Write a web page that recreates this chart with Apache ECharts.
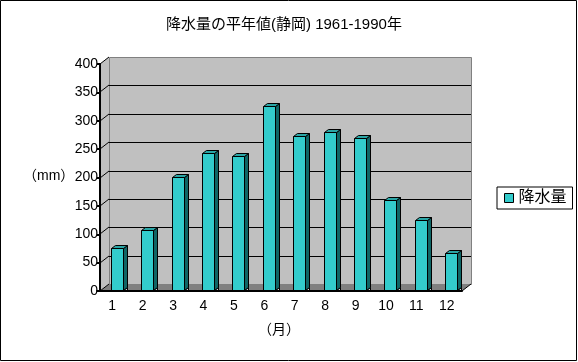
<!DOCTYPE html>
<html><head><meta charset="utf-8">
<script src="https://cdn.jsdelivr.net/npm/echarts@6/dist/echarts.min.js"></script>
<style>html,body{margin:0;padding:0;background:#fff}#c{width:578px;height:362px}</style>
</head><body><div id="c"></div>
<script>
const titleText = '降水量の平年値(静岡) 1961-1990年';
const seriesName = '降水量';
const months = ['1','2','3','4','5','6','7','8','9','10','11','12'];
const rainfall = [73, 104, 198, 240, 236, 323, 270, 277, 267, 157, 122, 64];
const yMin = 0, yMax = 400, yStep = 50;
const yName = '（mm）';
const xName = '（月）';

const FONT = '"Liberation Sans", "Noto Sans CJK JP", sans-serif';
const DX = 9, DY = -7;          // depth offset of back wall
const BDX = 4, BDY = -3;        // bar depth

const chart = echarts.init(document.getElementById('c'), null, {renderer: 'canvas'});

function renderWalls(params, api) {
  const cs = params.coordSys;
  const fx = cs.x + 3;                       // front-left (y axis position)
  const fr = cs.x + cs.width;                // front-right
  const y0 = api.coord([0, yMin])[1];
  const yT = api.coord([0, yMax])[1];
  const ch = [];
  ch.push({type: 'polygon', shape: {points: [[fx, yT], [fx + DX, yT + DY], [fx + DX, y0 + DY], [fx, y0]]},
    style: {fill: '#c0c0c0', stroke: null}});
  ch.push({type: 'rect', shape: {x: fx + DX + 0.5, y: yT + DY + 0.5, width: fr - fx, height: y0 - yT},
    style: {fill: '#c0c0c0', stroke: '#808080', lineWidth: 1}});
  ch.push({type: 'polygon', shape: {points: [[fx, y0], [fr, y0], [fr + DX, y0 + DY], [fx + DX, y0 + DY]]},
    style: {fill: '#808080', stroke: null}});
  ch.push({type: 'line', shape: {x1: fr, y1: y0, x2: fr + DX, y2: y0 + DY}, style: {stroke: '#000', lineWidth: 1}});
  for (let v = yMin; v <= yMax; v += yStep) {
    const y = Math.round(api.coord([0, v])[1]);
    if (v > yMin && v < yMax) {
      ch.push({type: 'line', shape: {x1: fx + DX, y1: y + DY + 0.5, x2: fr + DX, y2: y + DY + 0.5},
        style: {stroke: '#000', lineWidth: 1}});
    }
    ch.push({type: 'line', shape: {x1: fx, y1: y, x2: fx + DX, y2: y + DY}, style: {stroke: '#000', lineWidth: 1}});
  }
  return {type: 'group', children: ch};
}

function renderBar(params, api) {
  const idx = api.value(0), v = api.value(1);
  const top = api.coord([idx, v]);
  const base = api.coord([idx, yMin]);
  const w = 12;
  const l = Math.round(top[0] - 1.5) + 0.5;
  const r = l + w;
  const t = Math.round(top[1] - 1.5) + 0.5;
  const b = Math.round(base[1] - 1.5) + 0.5;
  const st = {stroke: '#000', lineWidth: 1};
  return {type: 'group', children: [
    {type: 'polygon', shape: {points: [[r, b], [r + BDX, b + BDY], [r + BDX, b]]},
      style: Object.assign({fill: '#d8d8d8'}, st)},
    {type: 'polygon', shape: {points: [[r, t], [r + BDX, t + BDY], [r + BDX, b + BDY], [r, b]]},
      style: Object.assign({fill: '#0f6666'}, st)},
    {type: 'polygon', shape: {points: [[l, t], [l + BDX, t + BDY], [r + BDX, t + BDY], [r, t]]},
      style: Object.assign({fill: '#2aa5a5'}, st)},
    {type: 'rect', shape: {x: l, y: t, width: w, height: b - t},
      style: Object.assign({fill: '#33cccc'}, st)}
  ]};
}

chart.setOption({
  animation: false,
  backgroundColor: '#ffffff',
  textStyle: {fontFamily: FONT, color: '#000'},
  title: {text: titleText, left: 161, top: 12,
    textStyle: {fontSize: 15, fontWeight: 'normal', color: '#000', fontFamily: FONT}},
  grid: {left: 97, right: 116, top: 64, bottom: 71, containLabel: false},
  xAxis: {type: 'category', data: months, z: 10,
    axisLine: {show: true, lineStyle: {color: '#000', width: 2}},
    axisTick: {show: false},
    axisLabel: {color: '#000', fontSize: 14, margin: 8, fontFamily: FONT},
    splitLine: {show: false}},
  yAxis: {type: 'value', min: yMin, max: yMax, interval: yStep, offset: -3, z: 10,
    axisLine: {show: true, lineStyle: {color: '#000', width: 2}},
    axisTick: {show: true, length: 3, lineStyle: {color: '#000', width: 2}},
    axisLabel: {color: '#000', fontSize: 14, margin: 2, fontFamily: FONT},
    splitLine: {show: false}},
  legend: {left: 497, top: 187, orient: 'vertical',
    data: [{name: seriesName, icon: 'rect', itemStyle: {color: '#33cccc', borderColor: '#000', borderWidth: 1}}],
    itemWidth: 9, itemHeight: 9, padding: [3, 6, 3, 7],
    borderColor: '#000', borderWidth: 1, borderRadius: 0,
    textStyle: {fontSize: 16, color: '#000', fontFamily: FONT}},
  graphic: [
    {type: 'rect', shape: {x: 0.5, y: 0.5, width: 576, height: 360}, style: {fill: null, stroke: '#000', lineWidth: 1}, z: 100},
    {type: 'text', left: 23, top: 169, style: {text: yName, font: '14px ' + FONT, fill: '#000'}},
    {type: 'text', left: 258, top: 323, style: {text: xName, font: '14px ' + FONT, fill: '#000'}}
  ],
  series: [
    {type: 'custom', name: '_walls', renderItem: renderWalls, data: [[0, 0]], z: 1, clip: false, silent: true},
    {type: 'custom', name: seriesName, renderItem: renderBar, z: 5, clip: false,
      itemStyle: {color: '#33cccc'},
      data: months.map((m, i) => [i, rainfall[i]])}
  ]
});
</script></body></html>
